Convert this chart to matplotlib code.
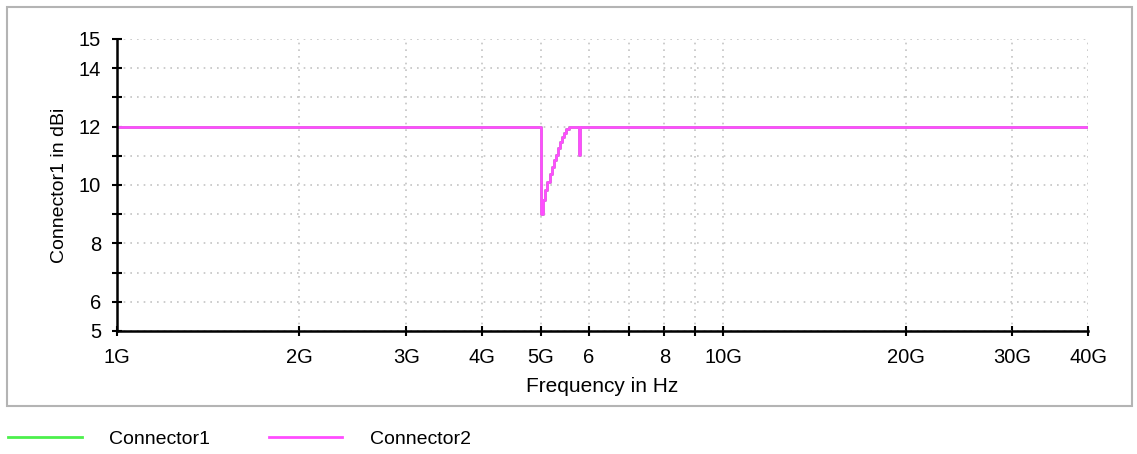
import matplotlib
matplotlib.use("Agg")
import matplotlib.pyplot as plt
from matplotlib.patches import Rectangle
from matplotlib.ticker import FixedLocator, FixedFormatter, NullLocator

plt.rcParams['font.family'] = ['Liberation Sans', 'DejaVu Sans']

# frequency in GHz, gain in dBi (step curve)
freq = [1.0, 5.0, 5.043, 5.086, 5.129, 5.172, 5.215, 5.258, 5.301, 5.344,
        5.387, 5.43, 5.473, 5.516, 5.56, 5.775, 5.81, 40.0]
conn1 = [12.0, 9.0, 9.5, 9.83, 10.1, 10.37, 10.63, 10.84, 11.04, 11.27,
         11.48, 11.64, 11.79, 11.93, 12.0, 11.03, 12.0, 12.0]
conn2 = [12.0, 9.0, 9.5, 9.83, 10.1, 10.37, 10.63, 10.84, 11.04, 11.27,
         11.48, 11.64, 11.79, 11.93, 12.0, 11.03, 12.0, 12.0]

xticks = [1, 2, 3, 4, 5, 6, 7, 8, 9, 10, 20, 30, 40]
xlabels = ['1G', '2G', '3G', '4G', '5G', '6', '', '8', '', '10G', '20G', '30G', '40G']
yticks = [5, 6, 7, 8, 9, 10, 11, 12, 13, 14, 15]
ylabels = ['5', '6', '', '8', '', '10', '', '12', '', '14', '15']

fig = plt.figure(figsize=(11.37, 4.54), dpi=100)
W, H = 1137, 454
ax = fig.add_axes([117 / W, 1 - 331 / H, (1088 - 117) / W, (331 - 39) / H])

# outer frame
fig.patches.append(Rectangle((7 / W, 1 - 406 / H), (1132 - 7) / W, (406 - 7) / H,
                             transform=fig.transFigure, fill=False,
                             edgecolor='#b4b4b4', linewidth=1.5))

l1, = ax.plot(freq, conn1, drawstyle='steps-post', color='#4cf04c', lw=2, label='Connector1')
l2, = ax.plot(freq, conn2, drawstyle='steps-post', color='#ff4dff', lw=2, label='Connector2')

ax.set_xscale('log')
ax.set_xlim(1, 40)
ax.set_ylim(5, 15)
ax.xaxis.set_major_locator(FixedLocator(xticks))
ax.xaxis.set_major_formatter(FixedFormatter(xlabels))
ax.xaxis.set_minor_locator(NullLocator())
ax.yaxis.set_major_locator(FixedLocator(yticks))
ax.yaxis.set_major_formatter(FixedFormatter(ylabels))

ax.grid(True, color='#c4c4c4', linestyle=(0, (1, 3)), linewidth=1.2)
ax.set_axisbelow(True)
for s in ['top', 'right']:
    ax.spines[s].set_visible(False)
for s in ['left', 'bottom']:
    ax.spines[s].set_linewidth(1.8)
ax.tick_params(direction='inout', length=7, width=1.5, labelsize=14.5, pad=9)
ax.tick_params(axis='y', pad=8)
ax.set_xlabel('Frequency in Hz', fontsize=15, labelpad=7)
ax.set_ylabel('Connector1 in dBi', fontsize=14, labelpad=8)

fig.legend(handles=[l1, l2], loc='center left', bbox_to_anchor=(0.002, 1 - 439 / H),
           ncol=2, frameon=False, fontsize=14, handlelength=3.8, handletextpad=1.4,
           columnspacing=3.0, borderaxespad=0, borderpad=0.3)

fig.savefig('out.png', dpi=100)
